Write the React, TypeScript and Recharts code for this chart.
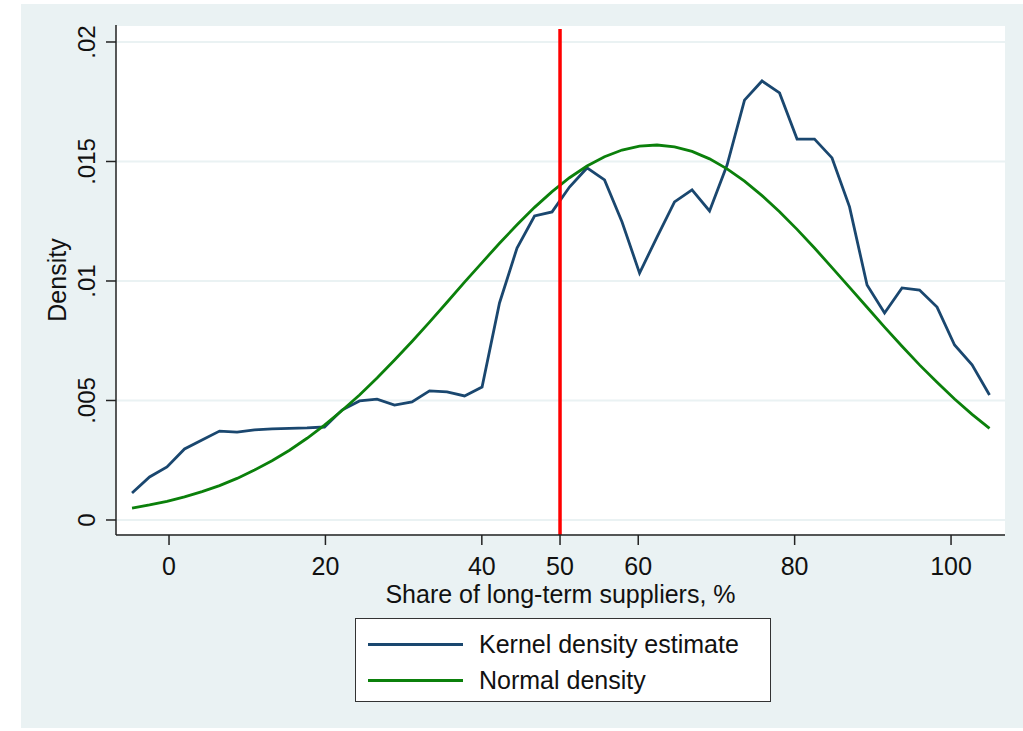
import React from 'react';
import { LineChart, Line, XAxis, YAxis, CartesianGrid, ReferenceLine, Label } from 'recharts';

// evaluation points, share of long-term suppliers (%)
const xPoints = [
  -4.73, -2.49, -0.26, 1.98, 4.22, 6.46, 8.7, 10.93, 13.17, 15.41,
  17.65, 19.88, 22.12, 24.36, 26.6, 28.84, 31.07, 33.31, 35.55, 37.79,
  40.03, 42.26, 44.5, 46.74, 48.98, 51.21, 53.45, 55.69, 57.93, 60.17,
  62.4, 64.64, 66.88, 69.12, 71.36, 73.59, 75.83, 78.07, 80.31, 82.54,
  84.78, 87.02, 89.26, 91.5, 93.73, 95.97, 98.21, 100.45, 102.69, 104.92,
];

const kernelDensity = [
  0.00113, 0.0018, 0.00222, 0.00297, 0.00335, 0.00372, 0.00368, 0.00377, 0.00381, 0.00383,
  0.00385, 0.00389, 0.0046, 0.00498, 0.00506, 0.00481, 0.00494, 0.0054, 0.00536, 0.00519,
  0.00556, 0.00908, 0.01138, 0.01272, 0.01289, 0.01393, 0.01473, 0.01423, 0.01247, 0.01033,
  0.01184, 0.01331, 0.01381, 0.01293, 0.01485, 0.01757, 0.01837, 0.01787, 0.01594, 0.01594,
  0.01515, 0.0131, 0.00983, 0.00866, 0.00971, 0.00962, 0.00891, 0.00732, 0.00649, 0.00523,
];

const normalDensity = [
  0.0005, 0.00063, 0.00078, 0.00097, 0.00119, 0.00144, 0.00174, 0.00209, 0.00248, 0.00292,
  0.00342, 0.00397, 0.00458, 0.00523, 0.00594, 0.00669, 0.00747, 0.00828, 0.00911, 0.00995,
  0.01077, 0.01158, 0.01235, 0.01308, 0.01374, 0.01432, 0.01481, 0.0152, 0.01548, 0.01564,
  0.01569, 0.01561, 0.01542, 0.01511, 0.01469, 0.01418, 0.01357, 0.0129, 0.01216, 0.01138,
  0.01056, 0.00973, 0.0089, 0.00807, 0.00727, 0.00649, 0.00576, 0.00506, 0.00442, 0.00383,
];

const xTicks = [0, 20, 40, 50, 60, 80, 100];
const yTicks = [0, 0.005, 0.01, 0.015, 0.02];
const yTickLabels = ['0', '.005', '.01', '.015', '.02'];

const seriesNames = ['Kernel density estimate', 'Normal density'];
const seriesColors = ['#1a476f', '#0b800b'];

const cutoff = 50;

const FONT = '"Liberation Sans", Arial, sans-serif';
const PANEL_BG = '#eaf2f3';

const data = xPoints.map((x, i) => ({
  x,
  kernel: kernelDensity[i],
  normal: normalDensity[i],
}));

const XTick = (props: any) => {
  const { x, y, payload } = props;
  return (
    <text x={x} y={y + 28} textAnchor="middle" fontSize={25} fontFamily={FONT} fill="#111">
      {payload.value}
    </text>
  );
};

const YTick = (props: any) => {
  const { x, y, payload } = props;
  const idx = yTicks.indexOf(payload.value);
  const bx = x - 9;
  return (
    <text
      x={bx}
      y={y}
      textAnchor="middle"
      fontSize={24}
      fontFamily={FONT}
      fill="#111"
      transform={`rotate(-90, ${bx}, ${y})`}
    >
      {idx >= 0 ? yTickLabels[idx] : payload.value}
    </text>
  );
};

export default function App() {
  return (
    <div
      style={{
        position: 'absolute',
        left: 21,
        top: 4,
        width: 1002,
        height: 724,
        background: PANEL_BG,
        fontFamily: FONT,
      }}
    >
      <LineChart width={1002} height={724} data={data} margin={{ top: 21, right: 18, left: 0, bottom: 113 }}>
        <CartesianGrid vertical={false} stroke={PANEL_BG} strokeWidth={2} fill="#ffffff" />
        <XAxis
          dataKey="x"
          type="number"
          domain={[-6.78, 106.9]}
          ticks={xTicks}
          allowDataOverflow
          height={80}
          tickSize={10}
          stroke="#222"
          strokeWidth={1.5}
          tick={<XTick />}
          interval={0}
        >
          <Label
            content={({ viewBox }: any) => (
              <text
                x={viewBox.x + viewBox.width / 2}
                y={viewBox.y + 68}
                textAnchor="middle"
                fontSize={25}
                fontFamily={FONT}
                fill="#111"
              >
                Share of long-term suppliers, %
              </text>
            )}
          />
        </XAxis>
        <YAxis
          type="number"
          domain={[-0.000628, 0.020711]}
          ticks={yTicks}
          allowDataOverflow
          width={95}
          tickSize={10}
          stroke="#222"
          strokeWidth={1.5}
          tick={<YTick />}
          interval={0}
        >
          <Label
            content={({ viewBox }: any) => {
              const cy = viewBox.y + viewBox.height / 2;
              return (
                <text
                  x={45}
                  y={cy}
                  textAnchor="middle"
                  fontSize={25}
                  fontFamily={FONT}
                  fill="#111"
                  transform={`rotate(-90, 45, ${cy})`}
                >
                  Density
                </text>
              );
            }}
          />
        </YAxis>
        <Line
          type="linear"
          dataKey="kernel"
          name={seriesNames[0]}
          stroke={seriesColors[0]}
          strokeWidth={2.8}
          dot={false}
          isAnimationActive={false}
        />
        <Line
          type="linear"
          dataKey="normal"
          name={seriesNames[1]}
          stroke={seriesColors[1]}
          strokeWidth={2.8}
          dot={false}
          isAnimationActive={false}
        />
        <ReferenceLine
          segment={[
            { x: cutoff, y: -0.000628 },
            { x: cutoff, y: 0.02054 },
          ]}
          stroke="#ff0000"
          strokeWidth={3.5}
          ifOverflow="extendDomain"
        />
      </LineChart>

      {/* legend box under the axis title */}
      <div
        style={{
          position: 'absolute',
          left: 334,
          top: 614,
          width: 414,
          height: 82,
          background: '#ffffff',
          border: '1.5px solid #333',
          boxSizing: 'content-box',
        }}
      >
        {seriesNames.map((name, i) => (
          <div
            key={name}
            style={{
              position: 'absolute',
              left: 0,
              top: 25 + i * 36 - 18,
              height: 36,
              display: 'flex',
              alignItems: 'center',
            }}
          >
            <div style={{ marginLeft: 12, width: 95, height: 3, background: seriesColors[i] }} />
            <span style={{ marginLeft: 16, fontSize: 25, color: '#111', whiteSpace: 'nowrap' }}>{name}</span>
          </div>
        ))}
      </div>
    </div>
  );
}
